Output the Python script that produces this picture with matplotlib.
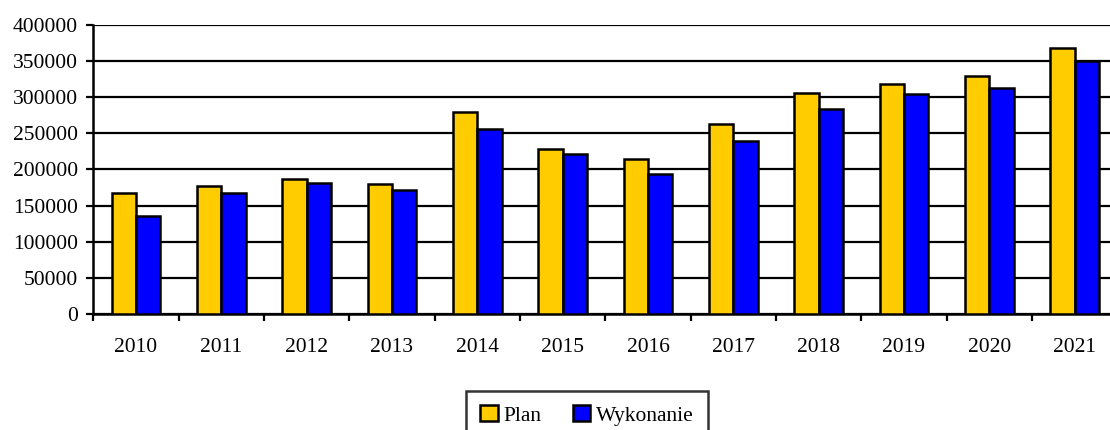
import matplotlib
matplotlib.use("Agg")
import matplotlib.pyplot as plt
import numpy as np

years = ["2010", "2011", "2012", "2013", "2014", "2015", "2016", "2017", "2018", "2019", "2020", "2021"]
plan = [167000, 177000, 187000, 180000, 279000, 229000, 215000, 263000, 306000, 318000, 330000, 368000]
wykonanie = [135000, 167000, 181000, 172000, 256000, 222000, 194000, 240000, 284000, 304000, 313000, 350000]
yticks = [0, 50000, 100000, 150000, 200000, 250000, 300000, 350000, 400000]

plt.rcParams['font.family'] = ['Liberation Serif', 'DejaVu Serif']
FS = 15.5

fig = plt.figure(figsize=(11.1, 4.3), dpi=100)
ax = fig.add_axes([93.3 / 1110, 116 / 430, 1024 / 1110, 289 / 430])

x = np.arange(len(years))
w = 0.285
ax.bar(x - w / 2, plan, w, color="#FFCC00", edgecolor="black", linewidth=1.8, label="Plan", zorder=3)
ax.bar(x + w / 2, wykonanie, w, color="#0000FF", edgecolor="black", linewidth=1.8, label="Wykonanie", zorder=3)

ax.set_xlim(-0.5, len(years) - 0.5)
ax.set_ylim(0, 400000)
ax.set_yticks(yticks)
ax.set_yticklabels([str(v) for v in yticks], fontsize=FS)
ax.yaxis.grid(True, color="black", linewidth=1.6, zorder=0)
ax.set_axisbelow(True)

ax.set_xticks(np.arange(len(years) + 1) - 0.5)
ax.set_xticklabels([])
ax.set_xticks(x, minor=True)
ax.set_xticklabels(years, minor=True, fontsize=FS)
ax.tick_params(axis='x', which='minor', length=0, pad=17)
ax.tick_params(axis='x', which='major', length=5, width=1.6, direction='out')
ax.tick_params(axis='y', length=5, width=1.6, direction='out', pad=6)

for s in ['top', 'right']:
    ax.spines[s].set_visible(False)
for s in ['left', 'bottom']:
    ax.spines[s].set_linewidth(1.8)

leg = fig.legend(loc='upper center', bbox_to_anchor=(587 / 1110, 1 - 391 / 430), ncol=2,
                 fontsize=FS, frameon=True, fancybox=False, edgecolor='black',
                 handlelength=0.8, handleheight=0.8, handletextpad=0.25, columnspacing=1.5,
                 borderpad=0.65, borderaxespad=0)
leg.get_frame().set_linewidth(1.8)

fig.savefig("out.png", dpi=100)
